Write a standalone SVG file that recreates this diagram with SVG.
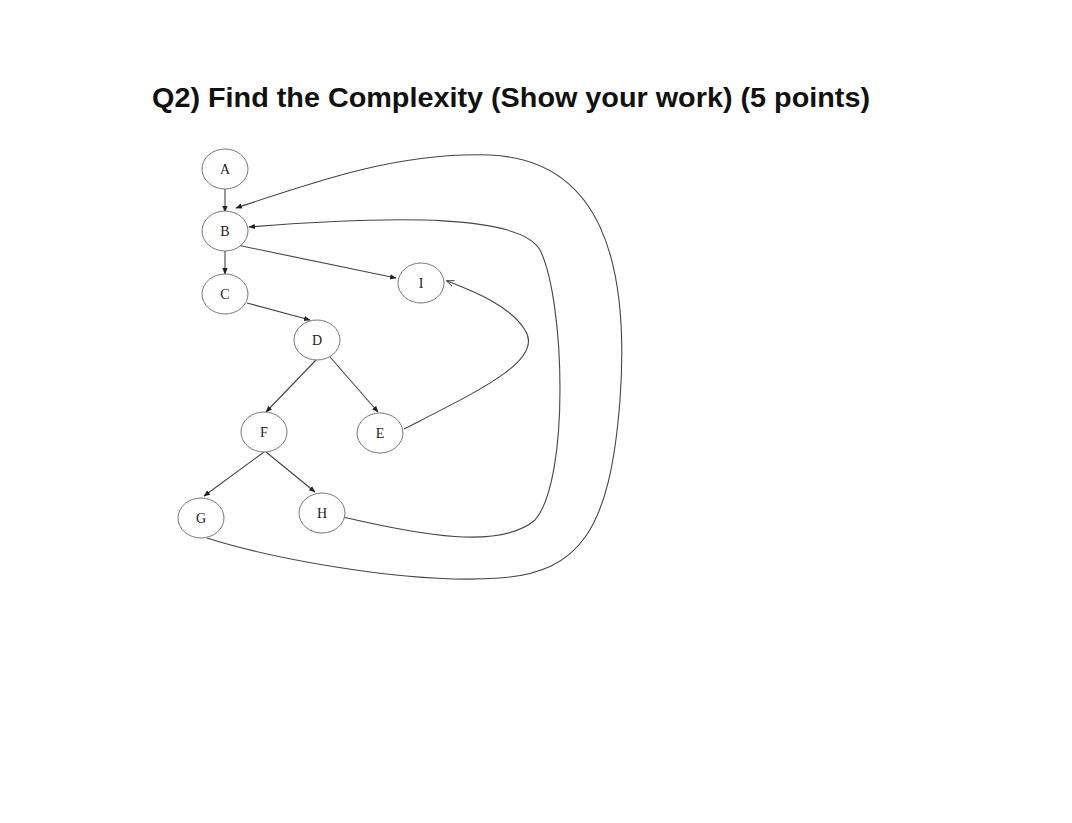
<svg xmlns="http://www.w3.org/2000/svg" width="1072" height="823" viewBox="0 0 1072 823">
<style>
.n ellipse{fill:#fff;stroke:#777;stroke-width:1}
.n text{font-family:"Liberation Serif",serif;font-size:14px;text-anchor:middle;fill:#222}
.e path{fill:none;stroke:#444;stroke-width:1.1}
</style>
<defs>
<marker id="a" viewBox="0 0 10 10" refX="9" refY="5" markerWidth="6" markerHeight="6" orient="auto"><path d="M0,1 L10,5 L0,9 z" fill="#222"/></marker>
<marker id="o" viewBox="0 0 10 10" refX="9" refY="5" markerWidth="7" markerHeight="7" orient="auto"><path d="M0,1 L10,5 L0,9" fill="none" stroke="#222"/></marker>
</defs>
<rect width="1072" height="823" fill="#fff"/>
<text x="152" y="107" font-family="Liberation Sans,Arial,sans-serif" font-weight="bold" font-size="27" textLength="718" lengthAdjust="spacingAndGlyphs" fill="#111">Q2) Find the Complexity (Show your work) (5 points)</text>
<g class="e">
<path d="M225,189 L225,212" marker-end="url(#a)"/>
<path d="M225,251 L225,274" marker-end="url(#a)"/>
<path d="M237,245 L396,278" marker-end="url(#a)"/>
<path d="M247,303 L310,320" marker-end="url(#a)"/>
<path d="M316,360 L266,412" marker-end="url(#a)"/>
<path d="M330,357 L378,412" marker-end="url(#a)"/>
<path d="M264,452 L204,496" marker-end="url(#a)"/>
<path d="M266,452 L315,492" marker-end="url(#a)"/>
<path d="M404,429 C480,390 545,360 525,330 C510,305 470,290 447,281" marker-end="url(#o)"/>
<path d="M343,517 C420,535 500,550 535,520 C570,480 565,300 540,250 C520,215 400,215 249,227" marker-end="url(#a)"/>
<path d="M207,538 C260,555 400,585 500,578 C580,572 610,530 620,400 C630,260 600,160 490,155 C400,152 320,180 236,208" marker-end="url(#a)"/>
</g>
<g id="A" class="n"><ellipse cx="225" cy="169" rx="23" ry="20"/><text x="225" y="174">A</text></g>
<g id="B" class="n"><ellipse cx="225" cy="231" rx="23" ry="20"/><text x="225" y="236">B</text></g>
<g id="C" class="n"><ellipse cx="225" cy="294" rx="23" ry="20"/><text x="225" y="299">C</text></g>
<g id="D" class="n"><ellipse cx="317" cy="340" rx="23" ry="20"/><text x="317" y="345">D</text></g>
<g id="I" class="n"><ellipse cx="421" cy="283" rx="23" ry="20"/><text x="421" y="288">I</text></g>
<g id="F" class="n"><ellipse cx="264" cy="432" rx="23" ry="20"/><text x="264" y="437">F</text></g>
<g id="E" class="n"><ellipse cx="380" cy="433" rx="23" ry="20"/><text x="380" y="438">E</text></g>
<g id="G" class="n"><ellipse cx="201" cy="518" rx="23" ry="20"/><text x="201" y="523">G</text></g>
<g id="H" class="n"><ellipse cx="322" cy="513" rx="23" ry="20"/><text x="322" y="518">H</text></g>
</svg>
